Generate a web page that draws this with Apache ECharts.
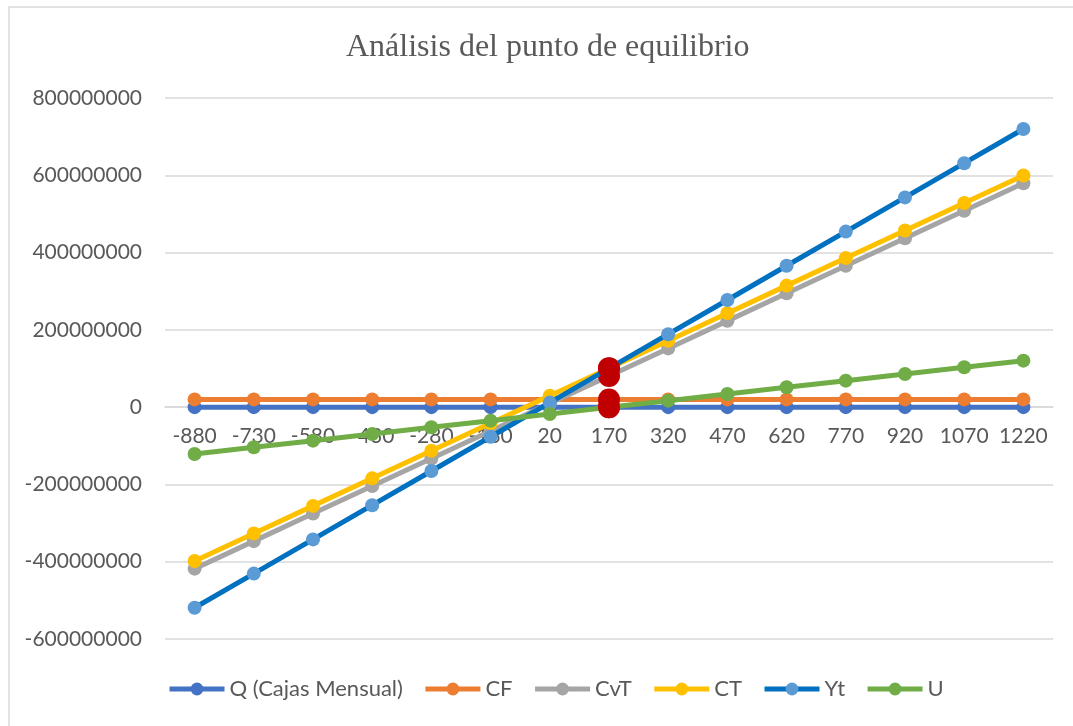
<!DOCTYPE html>
<html>
<head>
<meta charset="utf-8">
<script src="https://cdn.jsdelivr.net/npm/echarts@6/dist/echarts.min.js"></script>
<style>
  html, body { margin: 0; padding: 0; background: #fff; }
  #chart { width: 1073px; height: 726px; }
</style>
</head>
<body>
<div id="chart"></div>
<script>
// categories (Q, cajas mensual)
var categories = ['-880', '-730', '-580', '-430', '-280', '-130', '20', '170', '320', '470', '620', '770', '920', '1070', '1220'];

// series values
var qValues = [-880, -730, -580, -430, -280, -130, 20, 170, 320, 470, 620, 770, 920, 1070, 1220];
var cfValues = [20000000, 20000000, 20000000, 20000000, 20000000, 20000000, 20000000, 20000000, 20000000, 20000000, 20000000, 20000000, 20000000, 20000000, 20000000];
var cvtValues = [-418000000, -346750000, -275500000, -204250000, -133000000, -61750000, 9500000, 80750000, 152000000, 223250000, 294500000, 365750000, 437000000, 508250000, 579500000];
var ctValues = [-398000000, -326750000, -255500000, -184250000, -113000000, -41750000, 29500000, 100750000, 172000000, 243250000, 314500000, 385750000, 457000000, 528250000, 599500000];
var ytValues = [-519200000, -430700000, -342200000, -253700000, -165200000, -76700000, 11800000, 100300000, 188800000, 277300000, 365800000, 454300000, 542800000, 631300000, 719800000];
var uValues = [-121200000, -103950000, -86700000, -69450000, -52200000, -34950000, -17700000, -450000, 16800000, 34050000, 51300000, 68550000, 85800000, 103050000, 120300000];

// the break-even point is highlighted in red
var highlightIndex = 7;

var font = 'Lato, "Noto Sans", sans-serif';
var textColor = '#595959';

function markData(values) {
    return values.map(function (v, i) {
        if (i === highlightIndex) {
            return { value: v, symbolSize: 22, itemStyle: { color: '#C00000' } };
        }
        return v;
    });
}

function makeSeries(name, values, lineColor, markerColor, z) {
    return {
        name: name,
        type: 'line',
        data: markData(values),
        symbol: 'circle',
        symbolSize: 14,
        z: z,
        lineStyle: { color: lineColor, width: 5 },
        itemStyle: { color: markerColor },
        emphasis: { disabled: true },
        animation: false
    };
}

var chart = echarts.init(document.getElementById('chart'));

var option = {
    backgroundColor: '#fff',
    title: {
        text: 'Análisis del punto de equilibrio',
        left: 341,
        top: 27,
        textStyle: {
            fontFamily: '"Liberation Serif", "DejaVu Serif", serif',
            fontSize: 32,
            fontWeight: 'normal',
            color: textColor
        }
    },
    graphic: [{
        type: 'rect',
        shape: { x: 9, y: 7, width: 1200, height: 900 },
        style: { fill: 'none', stroke: '#D9D9D9', lineWidth: 1.5 },
        silent: true
    }],
    legend: {
        left: 162,
        bottom: 21,
        itemWidth: 55,
        itemHeight: 16,
        itemGap: 20,
        lineStyle: { width: 5 },
        textStyle: { fontFamily: font, fontSize: 22, color: textColor },
        data: ['Q (Cajas Mensual)', 'CF', 'CvT', 'CT', 'Yt', 'U']
    },
    grid: {
        left: 165,
        right: 20,
        top: 98,
        bottom: 87
    },
    xAxis: {
        type: 'category',
        data: categories,
        boundaryGap: true,
        offset: -232,
        axisLine: { onZero: false, lineStyle: { color: '#D9D9D9', width: 1.5 } },
        axisTick: { show: false },
        axisLabel: { fontFamily: font, fontSize: 21, color: textColor, margin: 19, interval: 0 },
        splitLine: { show: false }
    },
    yAxis: {
        type: 'value',
        min: -600000000,
        max: 800000000,
        interval: 200000000,
        axisLine: { show: false },
        axisTick: { show: false },
        axisLabel: {
            fontFamily: font, fontSize: 21, color: textColor, margin: 23,
            formatter: function (v) { return String(v); }
        },
        splitLine: { lineStyle: { color: '#D9D9D9', width: 1.5 } }
    },
    series: [
        makeSeries('Q (Cajas Mensual)', qValues, '#4472C4', '#4472C4', 2),
        makeSeries('CF', cfValues, '#ED7D31', '#ED7D31', 3),
        makeSeries('CvT', cvtValues, '#A5A5A5', '#A5A5A5', 4),
        makeSeries('CT', ctValues, '#FFC000', '#FFC000', 5),
        makeSeries('Yt', ytValues, '#0070C0', '#5B9BD5', 6),
        makeSeries('U', uValues, '#70AD47', '#70AD47', 7)
    ]
};

chart.setOption(option);
</script>
</body>
</html>
